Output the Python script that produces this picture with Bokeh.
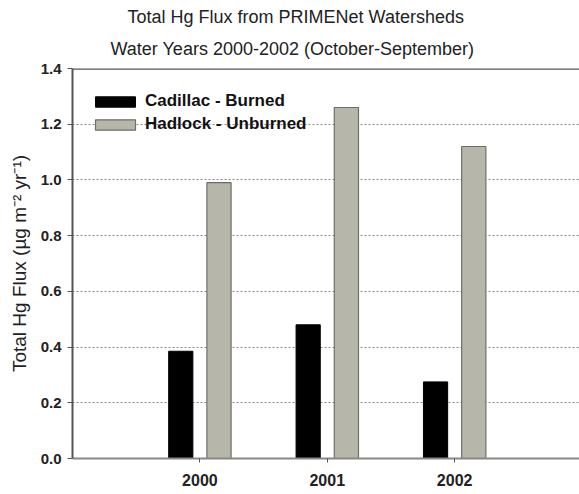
from bokeh.plotting import figure
from bokeh.models import ColumnDataSource, FixedTicker, Span, Title, Range1d, NumeralTickFormatter
from bokeh.transform import dodge
from bokeh.embed import file_html
from bokeh.resources import INLINE

years = ["2000", "2001", "2002"]
year_pos = [1, 2, 3]
cadillac_burned = [0.385, 0.48, 0.275]
hadlock_unburned = [0.99, 1.26, 1.12]
y_ticks = [0.0, 0.2, 0.4, 0.6, 0.8, 1.0, 1.2, 1.4]
title_lines = ["Total Hg Flux from PRIMENet Watersheds",
               "Water Years 2000-2002 (October-September)"]

src = ColumnDataSource(dict(x=year_pos, cad=cadillac_burned, had=hadlock_unburned))

p = figure(width=579, height=494, output_backend="svg", toolbar_location=None,
           x_range=Range1d(0, 3.98), y_range=Range1d(0, 1.4),
           min_border_left=72, min_border_right=0, min_border_top=68, min_border_bottom=36)
p.title = None
# closest to the frame first
p.add_layout(Title(text=title_lines[1], align="left", offset=38,
                   text_font="Liberation Sans", text_font_size="18px",
                   text_font_style="normal", text_color="#222222", standoff=19), "above")
p.add_layout(Title(text=title_lines[0], align="left", offset=55,
                   text_font="Liberation Sans", text_font_size="18px",
                   text_font_style="normal", text_color="#222222", standoff=1), "above")

p.vbar(x=dodge("x", -0.15), top="cad", width=0.19, source=src,
       fill_color="black", line_color="black", legend_label="Cadillac - Burned")
p.vbar(x=dodge("x", 0.15), top="had", width=0.19, source=src,
       fill_color="#b6b7aa", line_color="#6e6e68", line_width=1.2, legend_label="Hadlock - Unburned")

p.outline_line_color = None
p.add_layout(Span(location=1.4, dimension="width", line_color="#555555", line_width=2.5))

p.xgrid.grid_line_color = None
p.ygrid.grid_line_color = "#888888"
p.ygrid.grid_line_dash = "2 2"
p.ygrid.grid_line_width = 1

p.yaxis.ticker = FixedTicker(ticks=y_ticks)
p.yaxis.formatter = NumeralTickFormatter(format="0.0")
p.yaxis.axis_label = "Total Hg Flux (µg m⁻² yr⁻¹)"
p.yaxis.axis_label_text_font = "Liberation Sans"
p.yaxis.axis_label_text_font_size = "19px"
p.yaxis.axis_label_text_font_style = "normal"
p.yaxis.axis_label_text_color = "#222222"
p.yaxis.axis_label_standoff = 8
p.yaxis.major_label_text_font = "Liberation Sans"
p.yaxis.major_label_text_font_size = "15px"
p.yaxis.major_label_text_font_style = "bold"
p.yaxis.major_label_text_color = "#222222"
p.yaxis.major_label_standoff = 6
p.yaxis.major_tick_out = 5
p.yaxis.major_tick_in = 0
p.yaxis.minor_tick_line_color = None
p.yaxis.axis_line_color = "#555555"
p.yaxis.axis_line_width = 2
p.yaxis.major_tick_line_color = "#555555"

p.xaxis.ticker = FixedTicker(ticks=year_pos)
p.xaxis.major_label_overrides = {pos: lab for pos, lab in zip(year_pos, years)}
p.xaxis.major_label_text_font = "Liberation Sans"
p.xaxis.major_label_text_font_size = "16px"
p.xaxis.major_label_text_font_style = "bold"
p.xaxis.major_label_text_color = "#222222"
p.xaxis.major_label_standoff = 11
p.xaxis.major_tick_out = 4
p.xaxis.major_tick_in = 0
p.xaxis.minor_tick_line_color = None
p.xaxis.axis_line_color = "#888888"
p.xaxis.axis_line_width = 2
p.xaxis.major_tick_line_color = "#555555"

lg = p.legend[0]
lg.location = (18, 324)
lg.background_fill_alpha = 0
lg.border_line_color = None
lg.padding = 0
lg.margin = 0
lg.spacing = 3
lg.glyph_width = 50
lg.glyph_height = 13
lg.label_height = 20
lg.label_standoff = 5
lg.label_text_font = "Liberation Sans"
lg.label_text_font_size = "17px"
lg.label_text_font_style = "bold"
lg.label_text_color = "#111111"

open("out.html", "w").write(file_html(p, INLINE))
